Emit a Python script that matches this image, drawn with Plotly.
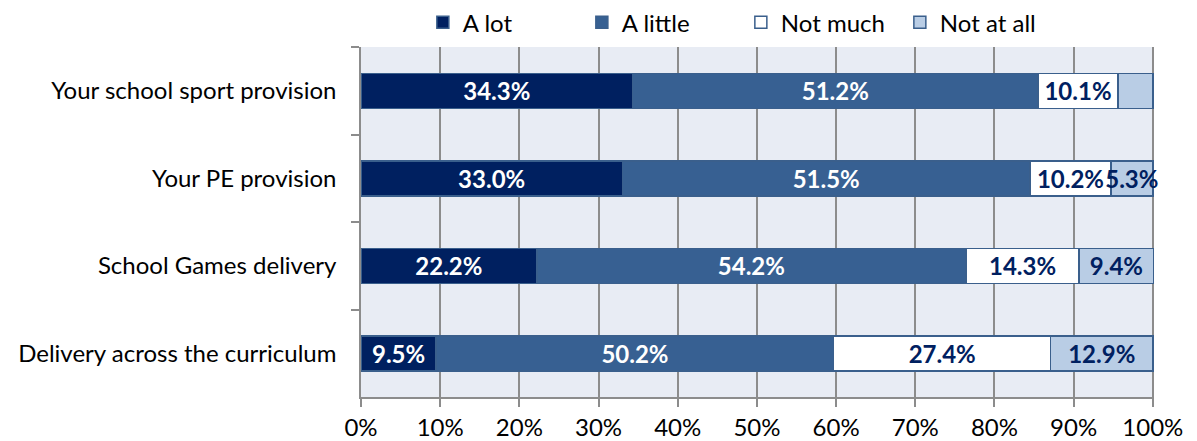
import plotly.graph_objects as go

categories = ["Your school sport provision", "Your PE provision",
              "School Games delivery", "Delivery across the curriculum"]
series_names = ["A lot", "A little", "Not much", "Not at all"]
a_lot = [34.3, 33.0, 22.2, 9.5]
a_little = [51.2, 51.5, 54.2, 50.2]
not_much = [10.1, 10.2, 14.3, 27.4]
not_at_all = [4.4, 5.3, 9.4, 12.9]
not_at_all_labels = ["", "5.3%", "9.4%", "12.9%"]

values = [a_lot, a_little, not_much, not_at_all]
fills = ["#002060", "#376092", "#FFFFFF", "#B9CDE5"]
text_colors = ["white", "white", "#002060", "#002060"]

FONT = "Lato"

fig = go.Figure()
for i, name in enumerate(series_names):
    if name == "Not at all":
        labels = not_at_all_labels
    else:
        labels = ["%.1f%%" % v for v in values[i]]
    fig.add_trace(go.Bar(
        y=categories, x=values[i], name=name, orientation="h",
        marker=dict(color=fills[i], line=dict(color="#3A5F8C", width=1.5)),
        text=labels, textposition="inside", insidetextanchor="middle",
        constraintext="none", cliponaxis=False,
        textfont=dict(color=text_colors[i], size=24, family=FONT, weight="bold"),
        width=0.4,
    ))

fig.update_layout(
    barmode="stack",
    width=1197, height=441,
    margin=dict(l=361, r=43, t=47, b=44, autoexpand=False),
    plot_bgcolor="#E8ECF4",
    paper_bgcolor="white",
    font=dict(family=FONT, size=24, color="black"),
    legend=dict(orientation="h", x=0.078, xanchor="left", y=1.134, yanchor="top",
                entrywidth=114, font=dict(size=24), traceorder="normal",
                bgcolor="rgba(0,0,0,0)"),
    showlegend=True,
)
# row 3 sums to 100.1, so leave a hair of room past 100%
fig.update_xaxes(range=[0, 100.15], dtick=10, ticksuffix="%", showgrid=True,
                 gridcolor="#8C8C8C", gridwidth=1.5, zeroline=False,
                 ticks="outside", ticklen=8, tickcolor="#8C8C8C", tickwidth=1.5,
                 showline=True, linecolor="#8C8C8C", linewidth=1.5)
fig.update_yaxes(autorange="reversed", ticks="outside", tickson="boundaries",
                 ticklen=8, tickcolor="#8C8C8C", tickwidth=1.5, ticklabelstandoff=18,
                 showline=True, linecolor="#8C8C8C", linewidth=1.5, showgrid=False)

# drop the default page margin so the figure fills the window exactly
fig.write_html("out.html", config={"displayModeBar": False},
               post_script="document.body.style.margin='0';")
